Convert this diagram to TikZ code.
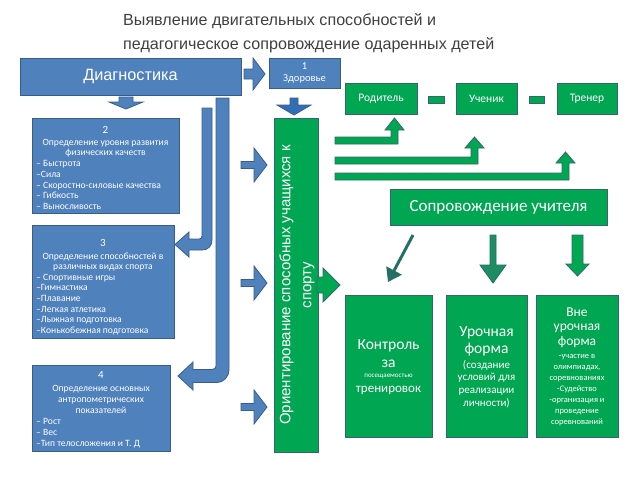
\documentclass[tikz,border=0pt]{standalone}
\usepackage{fontspec}
\setmainfont{Liberation Sans}
\newfontfamily\calib{Carlito}
\usetikzlibrary{arrows.meta}
\definecolor{bfill}{RGB}{79,129,189}
\definecolor{bdark}{RGB}{50,110,182}
\definecolor{bline}{RGB}{56,93,138}
\definecolor{gfill}{RGB}{0,166,81}
\definecolor{gmid}{RGB}{28,142,98}
\definecolor{gline}{RGB}{52,102,110}
\definecolor{tealc}{RGB}{36,112,100}
\definecolor{titlec}{RGB}{64,64,64}
\begin{document}
\begin{tikzpicture}[x=1pt,y=-1pt,
  bbox/.style={draw=bline,fill=bfill,line width=0.9pt,inner sep=0pt,outer sep=0pt},
  gbox/.style={draw=gline,fill=gfill,line width=0.9pt,inner sep=0pt,outer sep=0pt},
  barrow/.style={draw=bline,fill=bfill,line width=0.8pt},
  garrow/.style={draw=gline,fill=gfill,line width=0.8pt},
  wtxt/.style={text=white,inner sep=0pt},
  fs/.style 2 args={font=\calib\fontsize{#1}{#2}\selectfont}]
\useasboundingbox (0,0) rectangle (640,480);
\fill[white] (0,0) rectangle (640,480);

% title
\node[anchor=west,align=left,text=titlec,inner sep=0pt,font=\fontsize{16.1}{24}\selectfont] (title) at (123,33.5)
  {Выявление двигательных способностей и\\педагогическое сопровождение одаренных детей};

% blue boxes
\node[bbox,minimum width=221,minimum height=37] (diag) at (130.5,76.5) {};
\node[wtxt,font=\fontsize{16.3}{18}\selectfont] at (diag) {Диагностика};
\node[bbox,minimum width=71,minimum height=30] (zdor) at (304.5,73) {};
\node[wtxt,align=center,fs={10.5}{12.5}] at (zdor) {1\\Здоровье};

\node[bbox,minimum width=147,minimum height=95] (b2) at (105.5,165.5) {};
\node[wtxt,fs={11}{12}] at (105.5,130) {2};
\node[wtxt,align=center,fs={9.6}{10.3}] at (105.5,148) {Определение уровня развития\\физических качеств};
\node[wtxt,align=left,anchor=west,fs={9.6}{10.9}] at (36,185) {– Быстрота\\–Сила\\– Скоростно-силовые качества\\– Гибкость\\– Выносливость};

\node[bbox,minimum width=142,minimum height=113] (b3) at (103,281.5) {};
\node[wtxt,fs={11}{12}] at (103,243) {3};
\node[wtxt,align=center,fs={9.6}{10.3}] at (103,262) {Определение способностей в\\различных видах спорта};
\node[wtxt,align=left,anchor=west,fs={9.6}{10.6}] at (36,304.5) {– Спортивные игры\\–Гимнастика\\–Плавание\\–Легкая атлетика\\–Лыжная подготовка\\–Конькобежная подготовка};

\node[bbox,minimum width=138,minimum height=86] (b4) at (101,408) {};
\node[wtxt,fs={11}{12}] at (101,375) {4};
\node[wtxt,align=center,fs={9.6}{11}] at (101,399) {Определение основных\\антропометрических\\показателей};
\node[wtxt,align=left,anchor=west,fs={9.6}{11}] at (36,433) {– Рост\\– Вес\\–Тип телосложения и Т. Д};

% green vertical box
\node[gbox,minimum width=44,minimum height=334] (orient) at (296,285) {};
\node[wtxt,rotate=90,align=center,font=\fontsize{15}{21}\selectfont] at (297,285) {Ориентирование способных учащихся к\\спорту};

% top green boxes
\node[gbox,minimum width=72,minimum height=31] (rod) at (381,98.5) {};
\node[wtxt,fs={11.5}{12}] at (rod) {Родитель};
\node[gbox,minimum width=61,minimum height=31] (uch) at (486.5,98.5) {};
\node[wtxt,fs={11.5}{12}] at (uch) {Ученик};
\node[gbox,minimum width=60,minimum height=31] (tren) at (587,98.5) {};
\node[wtxt,fs={11.5}{12}] at (tren) {Тренер};
\draw[garrow] (428,96) rectangle (444,103);
\draw[garrow] (529,96) rectangle (544,103);

% teacher support
\node[gbox,minimum width=217,minimum height=36] (sopr) at (498.5,207) {};
\node[wtxt,fs={17}{19}] at (sopr) {Сопровождение учителя};

% bottom green boxes
\node[gbox,minimum width=87,minimum height=142] (kon) at (388.5,366) {};
\node[wtxt,align=center,fs={15.5}{18}] at (388.5,354) {Контроль\\за};
\node[wtxt,fs={7}{8}] at (388.5,376) {посещаемостью};
\node[wtxt,fs={13}{15}] at (388.5,390) {тренировок};

\node[gbox,minimum width=81,minimum height=142] (uro) at (486.5,366) {};
\node[wtxt,align=center,fs={15.5}{17}] at (486.5,341.5) {Урочная\\форма};
\node[wtxt,align=center,fs={11}{12.7}] at (486.5,384) {(создание\\условий для\\реализации\\личности)};

\node[gbox,minimum width=82,minimum height=142] (vne) at (577,366) {};
\node[wtxt,align=center,fs={13.5}{14.5}] at (577,327.5) {Вне\\урочная\\форма};
\node[wtxt,align=center,fs={8.5}{11}] at (577,390) {-участие в\\олимпиадах,\\соревнованиях\\-Судейство\\-организация и\\проведение\\соревнований};

% blue block arrows
\draw[barrow] (244,69) -- (253,69) -- (253,58) -- (265,74) -- (253,90) -- (253,79) -- (244,79) -- cycle;
\draw[barrow] (119,97) -- (133,97) -- (133,102) -- (143,102) -- (126,109) -- (109,102) -- (119,102) -- cycle;
\draw[barrow,fill=bdark] (290,98) -- (298,98) -- (298,105) -- (311,105) -- (294,115) -- (277,105) -- (290,105) -- cycle;
\foreach \c in {165,283,407}
  \draw[barrow] (241,\c-3.5) -- (254,\c-3.5) -- (254,\c-17) -- (267,\c) -- (254,\c+17) -- (254,\c+3.5) -- (241,\c+3.5) -- cycle;

% bent blue arrows
\draw[barrow] (202,108) -- (212,108) -- (212,240) .. controls (212,246) and (208,250) .. (202,250)
  -- (189,250) -- (189,257) -- (175,244.5) -- (189,232) -- (189,239) -- (199,239)
  .. controls (201,239) and (202,238) .. (202,236) -- cycle;
\draw[barrow] (216,98) -- (229,98) -- (229,369) .. controls (229,377) and (224,382.5) .. (216,382.5)
  -- (193,382.5) -- (193,390) -- (178,376) -- (193,362) -- (193,369.5) -- (212,369.5)
  .. controls (214.5,369.5) and (216,368) .. (216,366) -- cycle;

% green L arrows
\draw[garrow] (335,137) -- (391,137) -- (391,130) -- (385,130) -- (394.5,118) -- (404,130) -- (398,130) -- (398,144) -- (335,144) -- cycle;
\draw[garrow] (335,157) -- (471,157) -- (471,148) -- (465,148) -- (474.5,137) -- (484,148) -- (478,148) -- (478,164) -- (335,164) -- cycle;
\draw[garrow] (335,173) -- (562,173) -- (562,163) -- (556,163) -- (565.5,152) -- (575,163) -- (569,163) -- (569,180) -- (335,180) -- cycle;

% green arrow out of vertical box
\draw[garrow] (317,277) -- (323,277) -- (323,268) -- (340,285) -- (323,302) -- (323,293) -- (317,293) -- cycle;

% arrows from teacher support
\coordinate (d1) at (413,235);
\coordinate (d2) at (388,282);
\draw[tealc,line width=3pt,-{Triangle[width=17pt,length=13pt]}] (d1) -- (d2);
\draw[draw=tealc,fill=gmid,line width=0.8pt] (490,235) -- (496,235) -- (496,265) -- (506,265) -- (493,283) -- (480,265) -- (490,265) -- cycle;
\draw[garrow] (572,235) -- (583,235) -- (583,264) -- (589,264) -- (577.5,276) -- (566,264) -- (572,264) -- cycle;
\end{tikzpicture}
\end{document}
